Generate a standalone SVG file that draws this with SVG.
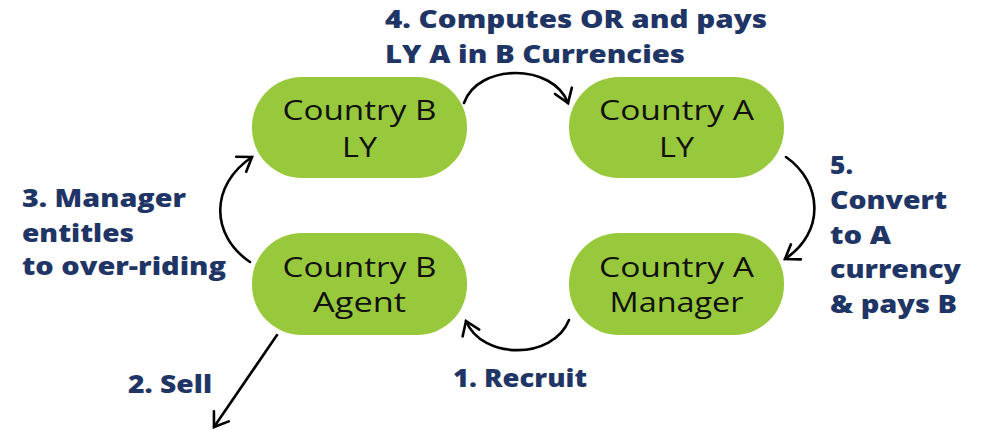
<svg xmlns="http://www.w3.org/2000/svg" width="984" height="430" viewBox="0 0 984 430">
  <style>
    .pill { fill: #98c93c; }
    .node-text { font-family: "Open Sans", "Liberation Sans", sans-serif; font-size: 28px; fill: #111111; text-anchor: middle; }
    .label { font-family: "Open Sans", "Liberation Sans", sans-serif; font-weight: 800; font-size: 24px; fill: #1f3566; }
    .conn { fill: none; stroke: #000000; stroke-width: 2.6; stroke-linecap: round; }
  </style>
  <defs>
    <marker id="chev" markerUnits="userSpaceOnUse" markerWidth="30" markerHeight="30" refX="0" refY="0" viewBox="-16 -15 30 30" orient="auto">
      <path d="M-13,-9 L0,0 L-13,9" fill="none" stroke="#000000" stroke-width="2.6" stroke-linecap="round" stroke-linejoin="miter"/>
    </marker>
  </defs>
  <rect width="984" height="430" fill="#ffffff"/>

  <g id="country-b-ly">
    <rect class="pill" x="252" y="77" width="215" height="101" rx="50"/>
    <text class="node-text" x="359.5" y="120" textLength="154" lengthAdjust="spacingAndGlyphs">Country B</text>
    <text class="node-text" x="359.5" y="157" textLength="35" lengthAdjust="spacingAndGlyphs">LY</text>
  </g>
  <g id="country-a-ly">
    <rect class="pill" x="569" y="77" width="215" height="101" rx="50"/>
    <text class="node-text" x="676.5" y="120" textLength="155" lengthAdjust="spacingAndGlyphs">Country A</text>
    <text class="node-text" x="676.5" y="157" textLength="35" lengthAdjust="spacingAndGlyphs">LY</text>
  </g>
  <g id="country-b-agent">
    <rect class="pill" x="252" y="233" width="215" height="102" rx="50"/>
    <text class="node-text" x="359.5" y="277" textLength="154" lengthAdjust="spacingAndGlyphs">Country B</text>
    <text class="node-text" x="359.5" y="312" textLength="93" lengthAdjust="spacingAndGlyphs">Agent</text>
  </g>
  <g id="country-a-manager">
    <rect class="pill" x="569" y="233" width="215" height="102" rx="50"/>
    <text class="node-text" x="676.5" y="277" textLength="155" lengthAdjust="spacingAndGlyphs">Country A</text>
    <text class="node-text" x="676.5" y="312" textLength="134" lengthAdjust="spacingAndGlyphs">Manager</text>
  </g>

  <g id="connectors">
    <path class="conn" d="M464,103 C478,63 553,63 568,103" marker-end="url(#chev)"/>
    <path class="conn" d="M786,157 C822,182 826,232 785,259" marker-end="url(#chev)"/>
    <path class="conn" d="M569,320 C553,360 482,360 466,321" marker-end="url(#chev)"/>
    <path class="conn" d="M250,262 C210,235 210,185 252,157" marker-end="url(#chev)"/>
    <path class="conn" d="M277,335 L214,427" marker-end="url(#chev)"/>
  </g>

  <g id="labels">
    <text class="label" x="385" y="28" textLength="382" lengthAdjust="spacingAndGlyphs">4. Computes OR and pays</text>
    <text class="label" x="385" y="63" textLength="300" lengthAdjust="spacingAndGlyphs">LY A in B Currencies</text>

    <text class="label" x="830" y="174" textLength="23" lengthAdjust="spacingAndGlyphs">5.</text>
    <text class="label" x="830" y="209" textLength="117" lengthAdjust="spacingAndGlyphs">Convert</text>
    <text class="label" x="830" y="244" textLength="61" lengthAdjust="spacingAndGlyphs">to A</text>
    <text class="label" x="830" y="278" textLength="131" lengthAdjust="spacingAndGlyphs">currency</text>
    <text class="label" x="830" y="313" textLength="127" lengthAdjust="spacingAndGlyphs">&amp; pays B</text>

    <text class="label" x="22" y="207" textLength="164" lengthAdjust="spacingAndGlyphs">3. Manager</text>
    <text class="label" x="22" y="242" textLength="112" lengthAdjust="spacingAndGlyphs">entitles</text>
    <text class="label" x="22" y="275" textLength="204" lengthAdjust="spacingAndGlyphs">to over-riding</text>

    <text class="label" x="128" y="393" textLength="84" lengthAdjust="spacingAndGlyphs">2. Sell</text>
    <text class="label" x="453" y="387" textLength="134" lengthAdjust="spacingAndGlyphs">1. Recruit</text>
  </g>
</svg>
